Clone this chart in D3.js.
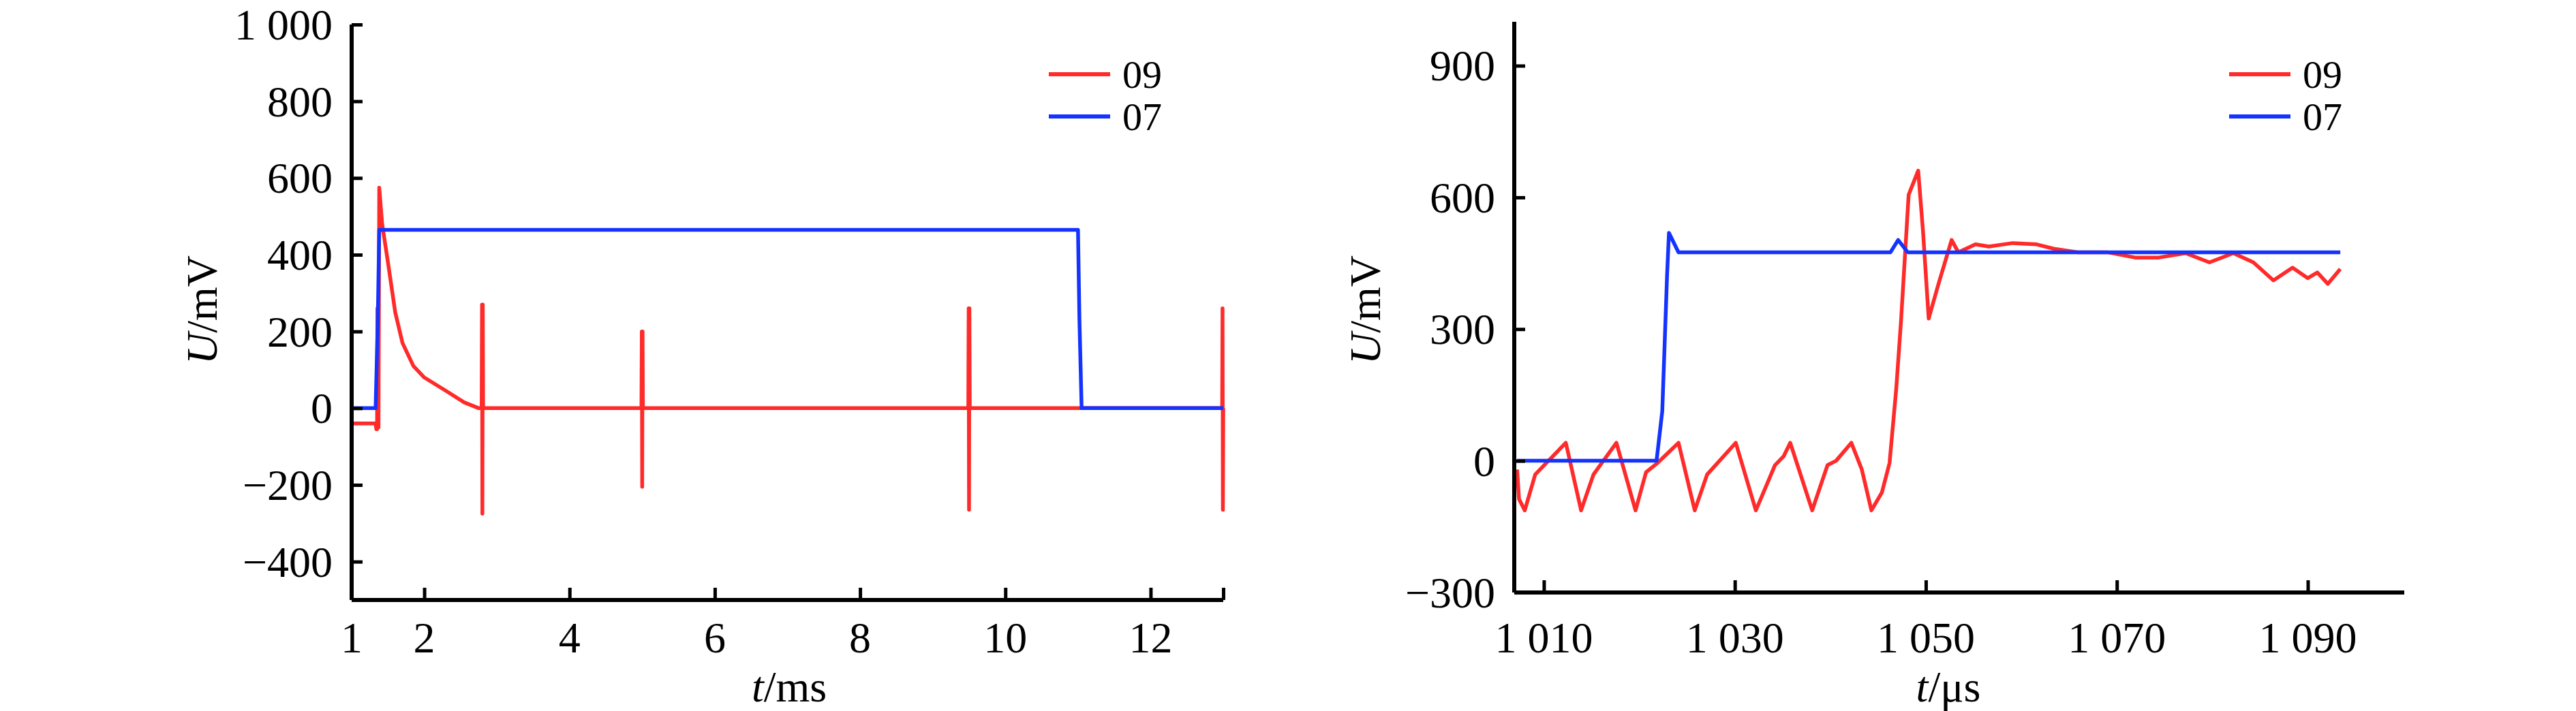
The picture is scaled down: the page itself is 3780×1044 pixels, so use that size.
<!DOCTYPE html>
<html><head><meta charset="utf-8">
<script src="https://cdn.jsdelivr.net/npm/d3@7"></script>
<style>body{margin:0;background:#fff}svg{display:block}text{font-family:"Liberation Serif","Times New Roman",serif;fill:#000}</style>
</head><body><svg id="c" width="3780" height="1044"></svg>
<script>
const seriesNames = ["09", "07"];
const leftXTicks = [1, 2, 4, 6, 8, 10, 12, 13];
const leftXTickLabels = ["1", "2", "4", "6", "8", "10", "12", ""];
const leftYTicks = [-400, -200, 0, 200, 400, 600, 800, 1000];
const rightXTicks = [1010, 1030, 1050, 1070, 1090];
const rightYTicks = [-300, 0, 300, 600, 900];
const left09 = [[1,-40],[1.33,-40],[1.34,-55],[1.35,-55],[1.355,260],[1.37,-50],[1.38,575],[1.42,480],[1.5,380],[1.6,250],[1.7,170],[1.85,110],[2.0,80],[2.3,45],[2.55,15],[2.75,0],
 [2.79,0],[2.795,270],[2.8,-275],[2.805,270],[2.81,0],[4.99,0],[4.995,200],[5.0,-205],[5.005,200],[5.01,0],
 [9.49,0],[9.495,260],[9.5,-265],[9.505,260],[9.51,0],[12.985,0],[12.99,260],[12.995,-265],[13,0]];
const left07 = [[1,0],[1.33,0],[1.36,230],[1.38,465],[11.0,465],[11.02,230],[11.05,0],[13,0]];
const right09 = [[1007.2,-20],[1007.4,-87],[1008.0,-113],[1009.1,-31],[1012.3,41],[1013.9,-113],[1015.2,-31],[1017.6,41],[1019.6,-113],[1020.7,-26],[1021.9,-5],[1024.1,41],[1025.8,-113],[1027.1,-31],[1030.1,41],[1032.2,-113],[1034.2,-10],[1035.1,10],[1035.8,41],[1038.1,-113],[1039.7,-10],[1040.6,0],[1042.2,41],[1043.3,-20],[1044.3,-113],[1045.4,-72],[1046.2,-5],[1046.9,164],[1047.4,318],[1048.2,606],[1049.2,661],[1049.7,524],[1050.3,324],[1051.3,401],[1052.7,503],[1053.4,475],[1055.2,493],[1056.6,488],[1059.1,496],[1061.6,493],[1063.4,483],[1065.9,475],[1069,475],[1071.9,463],[1074.4,463],[1077.2,473],[1079.7,452],[1082.2,473],[1084.3,452],[1086.4,411],[1088.4,440],[1090.0,416],[1091.0,429],[1092.1,403],[1093.4,437]];
const right07 = [[1007.2,0],[1021.8,0],[1022.4,113],[1022.9,421],[1023.1,519],[1024.1,475],[1046.3,475],[1047.1,503],[1048.1,475],[1093.4,475]];
const colors = ["#ff2a2a", "#1433ff"];

const svg = d3.select("#c");
const fmt = v => { const s = Math.abs(v).toString(); const t = s.length > 3 ? s.slice(0, s.length-3) + " " + s.slice(-3) : s; return (v < 0 ? "\u2212" : "") + t; };

function panel(o) {
  const x = d3.scaleLinear().domain(o.xd).range([o.x0, o.x1]);
  const y = d3.scaleLinear().domain(o.yd).range([o.y1, o.y0]);
  const g = svg.append("g");
  const ln = d3.line().x(d => x(d[0])).y(d => y(d[1]));
  o.data.forEach((d, i) => g.append("path").attr("d", ln(d)).attr("fill", "none").attr("stroke", colors[i]).attr("stroke-width", 5.5).attr("stroke-linejoin", "round"));
  const ya = g.append("g").attr("transform", `translate(${o.x0},0)`).call(d3.axisRight(y).tickValues(o.yt).tickSize(16).tickFormat(""));
  const xa = g.append("g").attr("transform", `translate(0,${o.y1})`).call(d3.axisTop(x).tickValues(o.xt).tickSize(18).tickFormat(""));
  [ya, xa].forEach(a => { a.select(".domain").attr("stroke-width", 6); a.selectAll(".tick line").attr("stroke-width", 5); });
  xa.select(".domain").attr("d", `M${o.x0},0H${o.x1}`);
  ya.select(".domain").attr("d", `M0,${o.y1}V${o.y0}`);
  g.selectAll(".yl").data(o.yt).join("text").attr("x", o.x0 - 28).attr("y", d => y(d) + 22).attr("text-anchor", "end").attr("font-size", 64).text(fmt);
  g.selectAll(".xl").data(o.xt).join("text").attr("x", d => x(d)).attr("y", 958).attr("text-anchor", "middle").attr("font-size", 64).text((d, i) => o.xl ? o.xl[i] : fmt(d));
  const xt = g.append("text").attr("x", o.xtx).attr("y", 1030).attr("text-anchor", "middle").attr("font-size", 64);
  xt.append("tspan").attr("font-style", "italic").text("t"); xt.append("tspan").text(o.unit);
  const yt = g.append("text").attr("transform", `translate(${o.ytx},455) rotate(-90)`).attr("text-anchor", "middle").attr("font-size", 64);
  yt.append("tspan").attr("font-style", "italic").text("U"); yt.append("tspan").text("/mV");
  seriesNames.forEach((n, i) => {
    const yy = 109 + i * 62;
    g.append("line").attr("x1", o.lx).attr("x2", o.lx + 90).attr("y1", yy).attr("y2", yy).attr("stroke", colors[i]).attr("stroke-width", 6);
    g.append("text").attr("x", o.lx + 108).attr("y", yy + 20).attr("font-size", 58).text(n);
  });
}
panel({xd:[1,13], yd:[-500,1000], x0:516, x1:1795, y0:36, y1:881, xt:leftXTicks, xl:leftXTickLabels, yt:leftYTicks, data:[left09,left07], xtx:1158, ytx:318, unit:"/ms", lx:1539});
panel({xd:[1006.9,1100.1], yd:[-300,1000], x0:2222, x1:3528, y0:32, y1:870, xt:rightXTicks, yt:rightYTicks, data:[right09,right07], xtx:2859, ytx:2025, unit:"/\u03bcs", lx:3271});
</script></body></html>
